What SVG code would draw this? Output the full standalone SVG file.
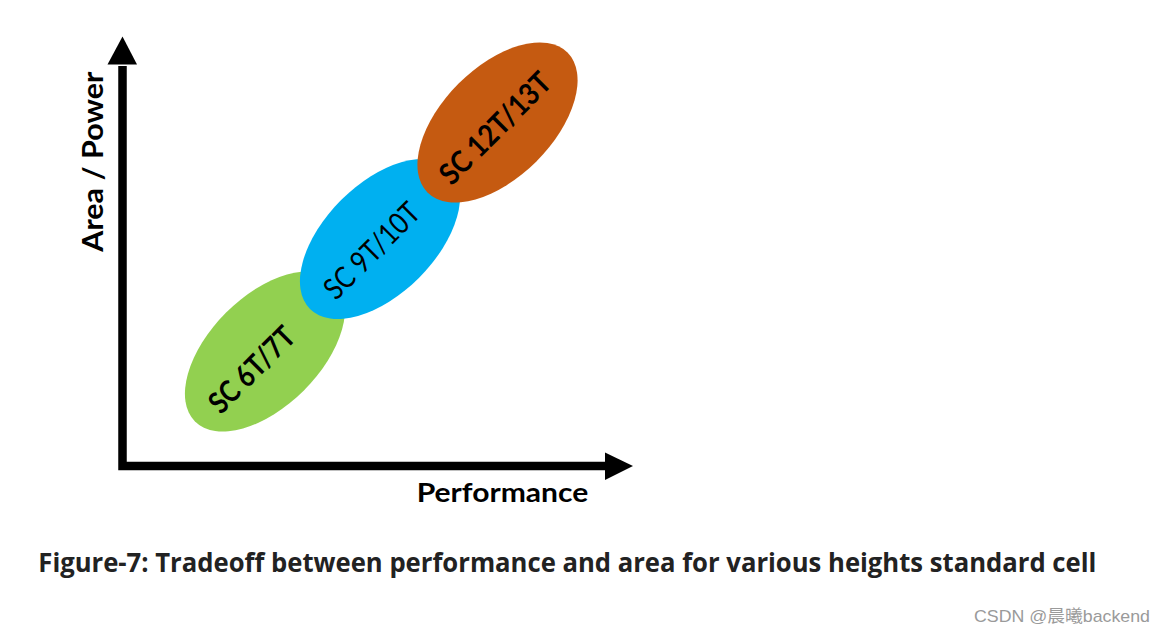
<svg xmlns="http://www.w3.org/2000/svg" width="1165" height="634" viewBox="0 0 1165 634">
  <style>
    .lbl { font-family: Lato, "Liberation Sans", sans-serif; font-weight: bold; fill: #000; }
    .cell { font-family: Lato, "Liberation Sans", sans-serif; font-size: 30px; fill: #000; text-anchor: middle; }
    .cap { font-family: "Open Sans", "Liberation Sans", sans-serif; font-weight: bold; fill: #222; }
    .wm { font-family: "Liberation Sans", "Noto Sans CJK SC", sans-serif; fill: #9a9a9a; }
  </style>
  <rect width="1165" height="634" fill="#fff"/>

  <g id="axes">
    <path d="M122.5,66 V466 H606" fill="none" stroke="#000" stroke-width="8.5" stroke-linejoin="miter"/>
    <polygon points="107.5,64.5 122.5,36.5 137,64.5" fill="#000"/>
    <polygon points="605,452.5 633,466 605,480" fill="#000"/>
  </g>

  <g id="node-green">
    <ellipse cx="0" cy="0" rx="99" ry="55" fill="#92D050" transform="translate(265,351.5) rotate(-45)"/>
  </g>
  <g id="node-blue">
    <ellipse cx="0" cy="0" rx="99" ry="55" fill="#00B0F0" transform="translate(380,239) rotate(-45)"/>
  </g>
  <g id="node-orange">
    <ellipse cx="0" cy="0" rx="99" ry="55" fill="#C55A11" transform="translate(497.5,122.5) rotate(-45)"/>
  </g>

  <g id="labels">
    <text class="cell" font-weight="bold" transform="translate(252,370) rotate(-45)" y="10" textLength="108" lengthAdjust="spacingAndGlyphs">SC 6T/7T</text>
    <text class="cell" transform="translate(372,251) rotate(-45)" y="10" textLength="122" lengthAdjust="spacingAndGlyphs">SC 9T/10T</text>
    <text class="cell" font-weight="bold" transform="translate(495.5,128.5) rotate(-45)" y="10" textLength="144" lengthAdjust="spacingAndGlyphs">SC 12T/13T</text>

    <text class="lbl" font-size="29" text-anchor="middle" transform="translate(103,161.7) rotate(-90)" textLength="180" lengthAdjust="spacingAndGlyphs">Area / Power</text>
    <text class="lbl" font-size="26" x="416.7" y="501.7" textLength="171.6" lengthAdjust="spacingAndGlyphs">Performance</text>

    <text class="cap" font-size="27" x="38.3" y="571.7" textLength="1058" lengthAdjust="spacingAndGlyphs">Figure-7: Tradeoff between performance and area for various heights standard cell</text>
    <text class="wm" font-size="17" x="974" y="621.5" textLength="176" lengthAdjust="spacingAndGlyphs">CSDN @晨曦backend</text>
  </g>
</svg>
